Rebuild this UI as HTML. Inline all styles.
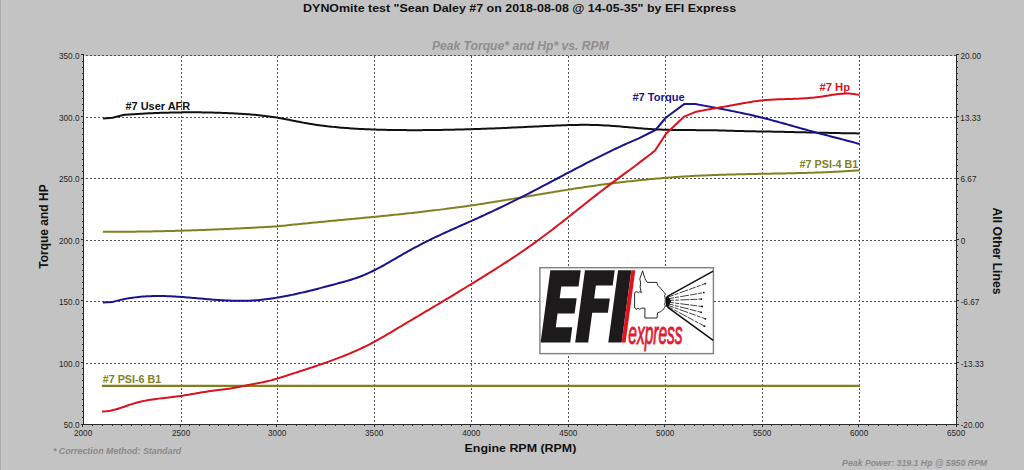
<!DOCTYPE html><html><head><meta charset="utf-8"><style>
html,body{margin:0;padding:0;background:#c3c3c3;overflow:hidden;}
svg{display:block;}
text{font-family:"Liberation Sans",sans-serif;}
</style></head><body>
<svg width="1024" height="470" viewBox="0 0 1024 470">
<rect x="0" y="0" width="1024" height="470" fill="#c3c3c3"/>
<rect x="0" y="0" width="1" height="470" fill="#aaaaaa"/>
<rect x="1" y="0" width="1" height="470" fill="#c8c8c8"/>
<rect x="84" y="56" width="872" height="368" fill="#ffffff"/>

<g stroke="#505050" stroke-width="1" stroke-dasharray="2 2"><line x1="181.5" y1="56" x2="181.5" y2="424"/><line x1="277.5" y1="56" x2="277.5" y2="424"/><line x1="374.5" y1="56" x2="374.5" y2="424"/><line x1="471.5" y1="56" x2="471.5" y2="424"/><line x1="568.5" y1="56" x2="568.5" y2="424"/><line x1="665.5" y1="56" x2="665.5" y2="424"/><line x1="762.5" y1="56" x2="762.5" y2="424"/><line x1="859.5" y1="56" x2="859.5" y2="424"/></g>
<g stroke="#505050" stroke-width="1" stroke-dasharray="2 2" stroke-dashoffset="2"><line x1="84" y1="117.5" x2="956" y2="117.5"/><line x1="84" y1="178.5" x2="956" y2="178.5"/><line x1="84" y1="240.5" x2="956" y2="240.5"/><line x1="84" y1="301.5" x2="956" y2="301.5"/><line x1="84" y1="363.5" x2="956" y2="363.5"/><line x1="84" y1="55.5" x2="956" y2="55.5"/></g>
<g stroke="#2a2a2a" stroke-width="1"><line x1="83.5" y1="55" x2="83.5" y2="425"/><line x1="956.5" y1="55" x2="956.5" y2="425"/><line x1="81" y1="424.5" x2="959" y2="424.5"/><line x1="81" y1="424.5" x2="84" y2="424.5"/><line x1="956" y1="424.5" x2="959" y2="424.5"/><line x1="82" y1="417.5" x2="84" y2="417.5"/><line x1="956" y1="417.5" x2="958" y2="417.5"/><line x1="82" y1="411.5" x2="84" y2="411.5"/><line x1="956" y1="411.5" x2="958" y2="411.5"/><line x1="82" y1="405.5" x2="84" y2="405.5"/><line x1="956" y1="405.5" x2="958" y2="405.5"/><line x1="82" y1="399.5" x2="84" y2="399.5"/><line x1="956" y1="399.5" x2="958" y2="399.5"/><line x1="82" y1="393.5" x2="84" y2="393.5"/><line x1="956" y1="393.5" x2="958" y2="393.5"/><line x1="82" y1="387.5" x2="84" y2="387.5"/><line x1="956" y1="387.5" x2="958" y2="387.5"/><line x1="82" y1="380.5" x2="84" y2="380.5"/><line x1="956" y1="380.5" x2="958" y2="380.5"/><line x1="82" y1="374.5" x2="84" y2="374.5"/><line x1="956" y1="374.5" x2="958" y2="374.5"/><line x1="82" y1="368.5" x2="84" y2="368.5"/><line x1="956" y1="368.5" x2="958" y2="368.5"/><line x1="81" y1="362.5" x2="84" y2="362.5"/><line x1="956" y1="362.5" x2="959" y2="362.5"/><line x1="82" y1="356.5" x2="84" y2="356.5"/><line x1="956" y1="356.5" x2="958" y2="356.5"/><line x1="82" y1="350.5" x2="84" y2="350.5"/><line x1="956" y1="350.5" x2="958" y2="350.5"/><line x1="82" y1="344.5" x2="84" y2="344.5"/><line x1="956" y1="344.5" x2="958" y2="344.5"/><line x1="82" y1="337.5" x2="84" y2="337.5"/><line x1="956" y1="337.5" x2="958" y2="337.5"/><line x1="82" y1="331.5" x2="84" y2="331.5"/><line x1="956" y1="331.5" x2="958" y2="331.5"/><line x1="82" y1="325.5" x2="84" y2="325.5"/><line x1="956" y1="325.5" x2="958" y2="325.5"/><line x1="82" y1="319.5" x2="84" y2="319.5"/><line x1="956" y1="319.5" x2="958" y2="319.5"/><line x1="82" y1="313.5" x2="84" y2="313.5"/><line x1="956" y1="313.5" x2="958" y2="313.5"/><line x1="82" y1="307.5" x2="84" y2="307.5"/><line x1="956" y1="307.5" x2="958" y2="307.5"/><line x1="81" y1="300.5" x2="84" y2="300.5"/><line x1="956" y1="300.5" x2="959" y2="300.5"/><line x1="82" y1="294.5" x2="84" y2="294.5"/><line x1="956" y1="294.5" x2="958" y2="294.5"/><line x1="82" y1="288.5" x2="84" y2="288.5"/><line x1="956" y1="288.5" x2="958" y2="288.5"/><line x1="82" y1="282.5" x2="84" y2="282.5"/><line x1="956" y1="282.5" x2="958" y2="282.5"/><line x1="82" y1="276.5" x2="84" y2="276.5"/><line x1="956" y1="276.5" x2="958" y2="276.5"/><line x1="82" y1="270.5" x2="84" y2="270.5"/><line x1="956" y1="270.5" x2="958" y2="270.5"/><line x1="82" y1="264.5" x2="84" y2="264.5"/><line x1="956" y1="264.5" x2="958" y2="264.5"/><line x1="82" y1="257.5" x2="84" y2="257.5"/><line x1="956" y1="257.5" x2="958" y2="257.5"/><line x1="82" y1="251.5" x2="84" y2="251.5"/><line x1="956" y1="251.5" x2="958" y2="251.5"/><line x1="82" y1="245.5" x2="84" y2="245.5"/><line x1="956" y1="245.5" x2="958" y2="245.5"/><line x1="81" y1="239.5" x2="84" y2="239.5"/><line x1="956" y1="239.5" x2="959" y2="239.5"/><line x1="82" y1="233.5" x2="84" y2="233.5"/><line x1="956" y1="233.5" x2="958" y2="233.5"/><line x1="82" y1="227.5" x2="84" y2="227.5"/><line x1="956" y1="227.5" x2="958" y2="227.5"/><line x1="82" y1="221.5" x2="84" y2="221.5"/><line x1="956" y1="221.5" x2="958" y2="221.5"/><line x1="82" y1="214.5" x2="84" y2="214.5"/><line x1="956" y1="214.5" x2="958" y2="214.5"/><line x1="82" y1="208.5" x2="84" y2="208.5"/><line x1="956" y1="208.5" x2="958" y2="208.5"/><line x1="82" y1="202.5" x2="84" y2="202.5"/><line x1="956" y1="202.5" x2="958" y2="202.5"/><line x1="82" y1="196.5" x2="84" y2="196.5"/><line x1="956" y1="196.5" x2="958" y2="196.5"/><line x1="82" y1="190.5" x2="84" y2="190.5"/><line x1="956" y1="190.5" x2="958" y2="190.5"/><line x1="82" y1="184.5" x2="84" y2="184.5"/><line x1="956" y1="184.5" x2="958" y2="184.5"/><line x1="81" y1="178.5" x2="84" y2="178.5"/><line x1="956" y1="178.5" x2="959" y2="178.5"/><line x1="82" y1="171.5" x2="84" y2="171.5"/><line x1="956" y1="171.5" x2="958" y2="171.5"/><line x1="82" y1="165.5" x2="84" y2="165.5"/><line x1="956" y1="165.5" x2="958" y2="165.5"/><line x1="82" y1="159.5" x2="84" y2="159.5"/><line x1="956" y1="159.5" x2="958" y2="159.5"/><line x1="82" y1="153.5" x2="84" y2="153.5"/><line x1="956" y1="153.5" x2="958" y2="153.5"/><line x1="82" y1="147.5" x2="84" y2="147.5"/><line x1="956" y1="147.5" x2="958" y2="147.5"/><line x1="82" y1="141.5" x2="84" y2="141.5"/><line x1="956" y1="141.5" x2="958" y2="141.5"/><line x1="82" y1="134.5" x2="84" y2="134.5"/><line x1="956" y1="134.5" x2="958" y2="134.5"/><line x1="82" y1="128.5" x2="84" y2="128.5"/><line x1="956" y1="128.5" x2="958" y2="128.5"/><line x1="82" y1="122.5" x2="84" y2="122.5"/><line x1="956" y1="122.5" x2="958" y2="122.5"/><line x1="81" y1="116.5" x2="84" y2="116.5"/><line x1="956" y1="116.5" x2="959" y2="116.5"/><line x1="82" y1="110.5" x2="84" y2="110.5"/><line x1="956" y1="110.5" x2="958" y2="110.5"/><line x1="82" y1="104.5" x2="84" y2="104.5"/><line x1="956" y1="104.5" x2="958" y2="104.5"/><line x1="82" y1="98.5" x2="84" y2="98.5"/><line x1="956" y1="98.5" x2="958" y2="98.5"/><line x1="82" y1="91.5" x2="84" y2="91.5"/><line x1="956" y1="91.5" x2="958" y2="91.5"/><line x1="82" y1="85.5" x2="84" y2="85.5"/><line x1="956" y1="85.5" x2="958" y2="85.5"/><line x1="82" y1="79.5" x2="84" y2="79.5"/><line x1="956" y1="79.5" x2="958" y2="79.5"/><line x1="82" y1="73.5" x2="84" y2="73.5"/><line x1="956" y1="73.5" x2="958" y2="73.5"/><line x1="82" y1="67.5" x2="84" y2="67.5"/><line x1="956" y1="67.5" x2="958" y2="67.5"/><line x1="82" y1="61.5" x2="84" y2="61.5"/><line x1="956" y1="61.5" x2="958" y2="61.5"/><line x1="81" y1="54.5" x2="84" y2="54.5"/><line x1="956" y1="54.5" x2="959" y2="54.5"/><line x1="82.5" y1="424" x2="82.5" y2="427"/><line x1="92.5" y1="424" x2="92.5" y2="426"/><line x1="102.5" y1="424" x2="102.5" y2="426"/><line x1="112.5" y1="424" x2="112.5" y2="426"/><line x1="121.5" y1="424" x2="121.5" y2="426"/><line x1="131.5" y1="424" x2="131.5" y2="426"/><line x1="141.5" y1="424" x2="141.5" y2="426"/><line x1="150.5" y1="424" x2="150.5" y2="426"/><line x1="160.5" y1="424" x2="160.5" y2="426"/><line x1="170.5" y1="424" x2="170.5" y2="426"/><line x1="180.5" y1="424" x2="180.5" y2="427"/><line x1="189.5" y1="424" x2="189.5" y2="426"/><line x1="199.5" y1="424" x2="199.5" y2="426"/><line x1="209.5" y1="424" x2="209.5" y2="426"/><line x1="218.5" y1="424" x2="218.5" y2="426"/><line x1="228.5" y1="424" x2="228.5" y2="426"/><line x1="238.5" y1="424" x2="238.5" y2="426"/><line x1="247.5" y1="424" x2="247.5" y2="426"/><line x1="257.5" y1="424" x2="257.5" y2="426"/><line x1="267.5" y1="424" x2="267.5" y2="426"/><line x1="276.5" y1="424" x2="276.5" y2="427"/><line x1="286.5" y1="424" x2="286.5" y2="426"/><line x1="296.5" y1="424" x2="296.5" y2="426"/><line x1="306.5" y1="424" x2="306.5" y2="426"/><line x1="315.5" y1="424" x2="315.5" y2="426"/><line x1="325.5" y1="424" x2="325.5" y2="426"/><line x1="335.5" y1="424" x2="335.5" y2="426"/><line x1="344.5" y1="424" x2="344.5" y2="426"/><line x1="354.5" y1="424" x2="354.5" y2="426"/><line x1="364.5" y1="424" x2="364.5" y2="426"/><line x1="374.5" y1="424" x2="374.5" y2="427"/><line x1="383.5" y1="424" x2="383.5" y2="426"/><line x1="393.5" y1="424" x2="393.5" y2="426"/><line x1="403.5" y1="424" x2="403.5" y2="426"/><line x1="412.5" y1="424" x2="412.5" y2="426"/><line x1="422.5" y1="424" x2="422.5" y2="426"/><line x1="432.5" y1="424" x2="432.5" y2="426"/><line x1="441.5" y1="424" x2="441.5" y2="426"/><line x1="451.5" y1="424" x2="451.5" y2="426"/><line x1="461.5" y1="424" x2="461.5" y2="426"/><line x1="470.5" y1="424" x2="470.5" y2="427"/><line x1="480.5" y1="424" x2="480.5" y2="426"/><line x1="490.5" y1="424" x2="490.5" y2="426"/><line x1="500.5" y1="424" x2="500.5" y2="426"/><line x1="509.5" y1="424" x2="509.5" y2="426"/><line x1="519.5" y1="424" x2="519.5" y2="426"/><line x1="529.5" y1="424" x2="529.5" y2="426"/><line x1="538.5" y1="424" x2="538.5" y2="426"/><line x1="548.5" y1="424" x2="548.5" y2="426"/><line x1="558.5" y1="424" x2="558.5" y2="426"/><line x1="568.5" y1="424" x2="568.5" y2="427"/><line x1="577.5" y1="424" x2="577.5" y2="426"/><line x1="587.5" y1="424" x2="587.5" y2="426"/><line x1="597.5" y1="424" x2="597.5" y2="426"/><line x1="606.5" y1="424" x2="606.5" y2="426"/><line x1="616.5" y1="424" x2="616.5" y2="426"/><line x1="626.5" y1="424" x2="626.5" y2="426"/><line x1="635.5" y1="424" x2="635.5" y2="426"/><line x1="645.5" y1="424" x2="645.5" y2="426"/><line x1="655.5" y1="424" x2="655.5" y2="426"/><line x1="664.5" y1="424" x2="664.5" y2="427"/><line x1="674.5" y1="424" x2="674.5" y2="426"/><line x1="684.5" y1="424" x2="684.5" y2="426"/><line x1="694.5" y1="424" x2="694.5" y2="426"/><line x1="703.5" y1="424" x2="703.5" y2="426"/><line x1="713.5" y1="424" x2="713.5" y2="426"/><line x1="723.5" y1="424" x2="723.5" y2="426"/><line x1="732.5" y1="424" x2="732.5" y2="426"/><line x1="742.5" y1="424" x2="742.5" y2="426"/><line x1="752.5" y1="424" x2="752.5" y2="426"/><line x1="762.5" y1="424" x2="762.5" y2="427"/><line x1="771.5" y1="424" x2="771.5" y2="426"/><line x1="781.5" y1="424" x2="781.5" y2="426"/><line x1="791.5" y1="424" x2="791.5" y2="426"/><line x1="800.5" y1="424" x2="800.5" y2="426"/><line x1="810.5" y1="424" x2="810.5" y2="426"/><line x1="820.5" y1="424" x2="820.5" y2="426"/><line x1="829.5" y1="424" x2="829.5" y2="426"/><line x1="839.5" y1="424" x2="839.5" y2="426"/><line x1="849.5" y1="424" x2="849.5" y2="426"/><line x1="858.5" y1="424" x2="858.5" y2="427"/><line x1="868.5" y1="424" x2="868.5" y2="426"/><line x1="878.5" y1="424" x2="878.5" y2="426"/><line x1="888.5" y1="424" x2="888.5" y2="426"/><line x1="897.5" y1="424" x2="897.5" y2="426"/><line x1="907.5" y1="424" x2="907.5" y2="426"/><line x1="917.5" y1="424" x2="917.5" y2="426"/><line x1="926.5" y1="424" x2="926.5" y2="426"/><line x1="936.5" y1="424" x2="936.5" y2="426"/><line x1="946.5" y1="424" x2="946.5" y2="426"/><line x1="956.5" y1="424" x2="956.5" y2="427"/></g>
<g fill="#262626" font-size="9"><text x="63.64" y="427.8" textLength="15.94" lengthAdjust="spacingAndGlyphs">50.0</text><text x="59.00" y="366.8" textLength="20.50" lengthAdjust="spacingAndGlyphs">100.0</text><text x="59.00" y="304.8" textLength="20.50" lengthAdjust="spacingAndGlyphs">150.0</text><text x="59.00" y="243.8" textLength="20.50" lengthAdjust="spacingAndGlyphs">200.0</text><text x="59.00" y="181.8" textLength="20.50" lengthAdjust="spacingAndGlyphs">250.0</text><text x="59.00" y="120.8" textLength="20.50" lengthAdjust="spacingAndGlyphs">300.0</text><text x="59.00" y="58.8" textLength="20.50" lengthAdjust="spacingAndGlyphs">350.0</text><text x="960.64" y="427.8" textLength="23.22" lengthAdjust="spacingAndGlyphs">-20.00</text><text x="960.64" y="366.8" textLength="23.22" lengthAdjust="spacingAndGlyphs">-13.33</text><text x="960.64" y="304.8" textLength="18.67" lengthAdjust="spacingAndGlyphs">-6.67</text><text x="960.64" y="243.8" textLength="4.56" lengthAdjust="spacingAndGlyphs">0</text><text x="960.54" y="181.8" textLength="15.94" lengthAdjust="spacingAndGlyphs">6.67</text><text x="960.36" y="120.8" textLength="20.50" lengthAdjust="spacingAndGlyphs">13.33</text><text x="960.54" y="58.8" textLength="20.50" lengthAdjust="spacingAndGlyphs">20.00</text><text x="74.01" y="435.6" textLength="18.22" lengthAdjust="spacingAndGlyphs">2000</text><text x="172.01" y="435.6" textLength="18.22" lengthAdjust="spacingAndGlyphs">2500</text><text x="268.05" y="435.6" textLength="18.22" lengthAdjust="spacingAndGlyphs">3000</text><text x="365.05" y="435.6" textLength="18.22" lengthAdjust="spacingAndGlyphs">3500</text><text x="462.15" y="435.6" textLength="18.22" lengthAdjust="spacingAndGlyphs">4000</text><text x="559.15" y="435.6" textLength="18.22" lengthAdjust="spacingAndGlyphs">4500</text><text x="656.05" y="435.6" textLength="18.22" lengthAdjust="spacingAndGlyphs">5000</text><text x="753.05" y="435.6" textLength="18.22" lengthAdjust="spacingAndGlyphs">5500</text><text x="850.01" y="435.6" textLength="18.22" lengthAdjust="spacingAndGlyphs">6000</text><text x="947.01" y="435.6" textLength="18.22" lengthAdjust="spacingAndGlyphs">6500</text></g>
<path d="M102.90,231.80 L104.93,231.80 L106.97,231.80 L109.00,231.80 L111.03,231.80 L113.07,231.80 L115.10,231.79 L117.14,231.78 L119.17,231.77 L121.20,231.76 L123.24,231.75 L125.27,231.73 L127.30,231.71 L129.34,231.70 L131.37,231.68 L133.41,231.66 L135.44,231.63 L137.47,231.61 L139.51,231.58 L141.54,231.55 L143.57,231.52 L145.61,231.49 L147.64,231.46 L149.68,231.42 L151.71,231.39 L153.74,231.35 L155.78,231.31 L157.81,231.27 L159.84,231.22 L161.88,231.18 L163.91,231.13 L165.95,231.09 L167.98,231.04 L170.01,230.99 L172.05,230.93 L174.08,230.88 L176.11,230.83 L178.15,230.77 L180.18,230.71 L182.22,230.65 L184.25,230.59 L186.28,230.53 L188.32,230.46 L190.35,230.40 L192.38,230.33 L194.42,230.26 L196.45,230.19 L198.48,230.12 L200.52,230.05 L202.55,229.97 L204.59,229.90 L206.62,229.82 L208.65,229.74 L210.69,229.66 L212.72,229.58 L214.75,229.50 L216.79,229.42 L218.82,229.33 L220.86,229.24 L222.89,229.16 L224.92,229.07 L226.96,228.98 L228.99,228.88 L231.02,228.79 L233.06,228.70 L235.09,228.60 L237.13,228.50 L239.16,228.40 L241.19,228.31 L243.23,228.20 L245.26,228.10 L247.29,228.00 L249.33,227.89 L251.36,227.79 L253.40,227.68 L255.43,227.57 L257.46,227.46 L259.50,227.35 L261.53,227.24 L263.56,227.13 L265.60,227.01 L267.63,226.90 L269.67,226.78 L271.70,226.66 L273.73,226.54 L275.77,226.42 L277.80,226.30 L277.80,226.30 L279.81,226.08 L281.81,225.86 L283.82,225.65 L285.83,225.44 L287.83,225.23 L289.84,225.02 L291.85,224.81 L293.86,224.61 L295.86,224.40 L297.87,224.20 L299.88,224.00 L301.88,223.80 L303.89,223.60 L305.90,223.40 L307.90,223.20 L309.91,223.00 L311.92,222.80 L313.92,222.61 L315.93,222.41 L317.94,222.22 L319.94,222.03 L321.95,221.83 L323.96,221.64 L325.97,221.45 L327.97,221.26 L329.98,221.06 L331.99,220.87 L333.99,220.68 L336.00,220.49 L338.01,220.30 L340.01,220.11 L342.02,219.92 L344.03,219.73 L346.03,219.54 L348.04,219.35 L350.05,219.16 L352.06,218.97 L354.06,218.78 L356.07,218.59 L358.08,218.39 L360.08,218.20 L362.09,218.01 L364.10,217.82 L366.10,217.62 L368.11,217.43 L370.12,217.23 L372.12,217.04 L374.13,216.84 L376.14,216.65 L378.14,216.45 L380.15,216.25 L382.16,216.05 L384.17,215.85 L386.17,215.65 L388.18,215.44 L390.19,215.24 L392.19,215.04 L394.20,214.83 L396.21,214.62 L398.21,214.41 L400.22,214.20 L402.23,213.99 L404.23,213.78 L406.24,213.56 L408.25,213.35 L410.26,213.13 L412.26,212.91 L414.27,212.69 L416.28,212.46 L418.28,212.24 L420.29,212.01 L422.30,211.78 L424.30,211.55 L426.31,211.32 L428.32,211.08 L430.32,210.84 L432.33,210.60 L434.34,210.36 L436.34,210.12 L438.35,209.87 L440.36,209.62 L442.37,209.37 L444.37,209.12 L446.38,208.86 L448.39,208.60 L450.39,208.34 L452.40,208.07 L454.41,207.81 L456.41,207.54 L458.42,207.26 L460.43,206.99 L462.43,206.71 L464.44,206.43 L466.45,206.14 L468.46,205.85 L470.46,205.56 L472.47,205.27 L474.48,204.97 L476.48,204.67 L478.49,204.37 L480.50,204.06 L482.50,203.75 L484.51,203.44 L486.52,203.13 L488.52,202.81 L490.53,202.49 L492.54,202.17 L494.54,201.85 L496.55,201.53 L498.56,201.20 L500.57,200.87 L502.57,200.54 L504.58,200.21 L506.59,199.88 L508.59,199.55 L510.60,199.21 L512.61,198.88 L514.61,198.54 L516.62,198.21 L518.63,197.87 L520.63,197.53 L522.64,197.19 L524.65,196.85 L526.66,196.52 L528.66,196.18 L530.67,195.84 L532.68,195.50 L534.68,195.16 L536.69,194.82 L538.70,194.49 L540.70,194.15 L542.71,193.81 L544.72,193.48 L546.72,193.14 L548.73,192.81 L550.74,192.47 L552.74,192.14 L554.75,191.81 L556.76,191.48 L558.77,191.16 L560.77,190.83 L562.78,190.51 L564.79,190.19 L566.79,189.87 L568.80,189.55 L570.81,189.23 L572.81,188.92 L574.82,188.61 L576.83,188.30 L578.83,188.00 L580.84,187.70 L582.85,187.40 L584.86,187.10 L586.86,186.81 L588.87,186.51 L590.88,186.23 L592.88,185.94 L594.89,185.66 L596.90,185.38 L598.90,185.11 L600.91,184.84 L602.92,184.57 L604.92,184.30 L606.93,184.04 L608.94,183.78 L610.94,183.52 L612.95,183.27 L614.96,183.02 L616.97,182.77 L618.97,182.53 L620.98,182.29 L622.99,182.05 L624.99,181.82 L627.00,181.59 L629.01,181.36 L631.01,181.14 L633.02,180.92 L635.03,180.70 L637.03,180.49 L639.04,180.28 L641.05,180.08 L643.06,179.87 L645.06,179.67 L647.07,179.48 L649.08,179.29 L651.08,179.10 L653.09,178.91 L655.10,178.73 L657.10,178.55 L659.11,178.38 L661.12,178.21 L663.12,178.04 L665.13,177.88 L667.14,177.72 L669.14,177.56 L671.15,177.41 L673.16,177.26 L675.17,177.11 L677.17,176.97 L679.18,176.83 L681.19,176.70 L683.19,176.57 L685.20,176.44 L687.21,176.32 L689.21,176.20 L691.22,176.09 L693.23,175.98 L695.23,175.87 L697.24,175.77 L699.25,175.67 L701.26,175.57 L703.26,175.48 L705.27,175.39 L707.28,175.30 L709.28,175.22 L711.29,175.14 L713.30,175.06 L715.30,174.99 L717.31,174.92 L719.32,174.85 L721.32,174.79 L723.33,174.72 L725.34,174.66 L727.34,174.60 L729.35,174.54 L731.36,174.49 L733.37,174.44 L735.37,174.39 L737.38,174.34 L739.39,174.29 L741.39,174.24 L743.40,174.20 L745.41,174.15 L747.41,174.11 L749.42,174.07 L751.43,174.03 L753.43,173.99 L755.44,173.95 L757.45,173.91 L759.46,173.87 L761.46,173.83 L763.47,173.80 L765.48,173.76 L767.48,173.72 L769.49,173.69 L771.50,173.65 L773.50,173.61 L775.51,173.57 L777.52,173.54 L779.52,173.50 L781.53,173.46 L783.54,173.42 L785.54,173.38 L787.55,173.34 L789.56,173.29 L791.57,173.25 L793.57,173.20 L795.58,173.16 L797.59,173.11 L799.59,173.06 L801.60,173.01 L803.61,172.95 L805.61,172.90 L807.62,172.84 L809.63,172.78 L811.63,172.72 L813.64,172.66 L815.65,172.59 L817.66,172.52 L819.66,172.45 L821.67,172.38 L823.68,172.30 L825.68,172.22 L827.69,172.14 L829.70,172.05 L831.70,171.96 L833.71,171.87 L835.72,171.77 L837.72,171.67 L839.73,171.57 L841.74,171.46 L843.74,171.35 L845.75,171.23 L847.76,171.11 L849.77,170.99 L851.77,170.86 L853.78,170.73 L855.79,170.59 L857.79,170.45 L859.80,170.30" fill="none" stroke="#80801f" stroke-width="2.0" stroke-linejoin="round"/>
<line x1="102" y1="385.8" x2="860" y2="385.8" stroke="#80801f" stroke-width="2.2"/>
<path d="M103.10,118.40 L112.60,117.70 L112.60,117.70 L124.30,114.80 L124.30,114.80 L126.31,114.66 L128.32,114.52 L130.33,114.39 L132.34,114.26 L134.35,114.13 L136.35,114.01 L138.36,113.89 L140.37,113.78 L142.38,113.67 L144.39,113.57 L146.40,113.46 L148.41,113.37 L150.42,113.27 L152.43,113.19 L154.44,113.10 L156.44,113.02 L158.45,112.94 L160.46,112.87 L162.47,112.80 L164.48,112.74 L166.49,112.68 L168.50,112.63 L170.51,112.57 L172.52,112.53 L174.53,112.49 L176.53,112.45 L178.54,112.42 L180.55,112.39 L182.56,112.37 L184.57,112.35 L186.58,112.33 L188.59,112.32 L190.60,112.32 L192.61,112.32 L194.62,112.32 L196.62,112.33 L198.63,112.35 L200.64,112.36 L202.65,112.39 L204.66,112.42 L206.67,112.45 L208.68,112.49 L210.69,112.53 L212.70,112.58 L214.71,112.63 L216.71,112.69 L218.72,112.76 L220.73,112.83 L222.74,112.90 L224.75,112.98 L226.76,113.06 L228.77,113.15 L230.78,113.25 L232.79,113.35 L234.80,113.46 L236.80,113.57 L238.81,113.68 L240.82,113.80 L242.83,113.93 L244.84,114.07 L246.85,114.21 L248.86,114.36 L250.87,114.51 L252.88,114.68 L254.89,114.86 L256.90,115.04 L258.90,115.24 L260.91,115.45 L262.92,115.67 L264.93,115.90 L266.94,116.15 L268.95,116.41 L270.96,116.69 L272.97,116.98 L274.98,117.29 L276.99,117.62 L278.99,117.96 L281.00,118.32 L283.01,118.69 L285.02,119.07 L287.03,119.46 L289.04,119.85 L291.05,120.25 L293.06,120.65 L295.07,121.05 L297.08,121.45 L299.08,121.85 L301.09,122.24 L303.10,122.62 L305.11,122.99 L307.12,123.34 L309.13,123.68 L311.14,124.01 L313.15,124.33 L315.16,124.64 L317.17,124.93 L319.17,125.21 L321.18,125.48 L323.19,125.74 L325.20,125.99 L327.21,126.22 L329.22,126.45 L331.23,126.67 L333.24,126.88 L335.25,127.09 L337.26,127.28 L339.26,127.46 L341.27,127.64 L343.28,127.81 L345.29,127.97 L347.30,128.12 L349.31,128.27 L351.32,128.41 L353.33,128.54 L355.34,128.66 L357.35,128.78 L359.35,128.89 L361.36,129.00 L363.37,129.09 L365.38,129.19 L367.39,129.27 L369.40,129.36 L371.41,129.43 L373.42,129.50 L375.43,129.57 L377.44,129.63 L379.45,129.69 L381.45,129.74 L383.46,129.79 L385.47,129.84 L387.48,129.88 L389.49,129.92 L391.50,129.95 L393.51,129.99 L395.52,130.02 L397.53,130.04 L399.54,130.06 L401.54,130.08 L403.55,130.10 L405.56,130.12 L407.57,130.13 L409.58,130.13 L411.59,130.14 L413.60,130.14 L415.61,130.14 L417.62,130.14 L419.63,130.13 L421.63,130.13 L423.64,130.11 L425.65,130.10 L427.66,130.09 L429.67,130.07 L431.68,130.05 L433.69,130.02 L435.70,130.00 L437.71,129.97 L439.72,129.94 L441.72,129.91 L443.73,129.87 L445.74,129.83 L447.75,129.80 L449.76,129.75 L451.77,129.71 L453.78,129.67 L455.79,129.62 L457.80,129.57 L459.81,129.52 L461.81,129.46 L463.82,129.41 L465.83,129.35 L467.84,129.29 L469.85,129.23 L471.86,129.17 L473.87,129.11 L475.88,129.04 L477.89,128.97 L479.90,128.90 L481.90,128.83 L483.91,128.76 L485.92,128.69 L487.93,128.61 L489.94,128.54 L491.95,128.46 L493.96,128.38 L495.97,128.30 L497.98,128.22 L499.99,128.14 L502.00,128.05 L504.00,127.97 L506.01,127.88 L508.02,127.80 L510.03,127.71 L512.04,127.62 L514.05,127.53 L516.06,127.44 L518.07,127.35 L520.08,127.25 L522.09,127.16 L524.09,127.06 L526.10,126.97 L528.11,126.87 L530.12,126.78 L532.13,126.68 L534.14,126.58 L536.15,126.48 L538.16,126.39 L540.17,126.29 L542.18,126.19 L544.18,126.09 L546.19,126.00 L548.20,125.90 L550.21,125.81 L552.22,125.72 L554.23,125.63 L556.24,125.55 L558.25,125.47 L560.26,125.39 L562.27,125.31 L564.27,125.24 L566.28,125.18 L568.29,125.11 L570.30,125.06 L572.31,125.01 L574.32,124.96 L576.33,124.93 L578.34,124.90 L580.35,124.87 L582.36,124.86 L584.36,124.85 L586.37,124.86 L588.38,124.87 L590.39,124.89 L592.40,124.93 L594.41,124.97 L596.42,125.03 L598.43,125.10 L600.44,125.18 L602.45,125.27 L604.45,125.38 L606.46,125.49 L608.47,125.62 L610.48,125.76 L612.49,125.90 L614.50,126.05 L616.51,126.21 L618.52,126.37 L620.53,126.54 L622.54,126.71 L624.55,126.89 L626.55,127.07 L628.56,127.25 L630.57,127.43 L632.58,127.60 L634.59,127.78 L636.60,127.96 L638.61,128.13 L640.62,128.30 L642.63,128.47 L644.64,128.63 L646.64,128.78 L648.65,128.93 L650.66,129.06 L652.67,129.19 L654.68,129.31 L656.69,129.42 L658.70,129.52 L660.71,129.60 L662.72,129.68 L664.73,129.75 L666.73,129.81 L668.74,129.87 L670.75,129.91 L672.76,129.95 L674.77,129.98 L676.78,130.01 L678.79,130.04 L680.80,130.06 L682.81,130.07 L684.82,130.08 L686.82,130.09 L688.83,130.10 L690.84,130.11 L692.85,130.12 L694.86,130.12 L696.87,130.13 L698.88,130.14 L700.89,130.15 L702.90,130.16 L704.91,130.18 L706.91,130.19 L708.92,130.22 L710.93,130.24 L712.94,130.28 L714.95,130.32 L716.96,130.36 L718.97,130.41 L720.98,130.47 L722.99,130.53 L725.00,130.59 L727.00,130.65 L729.01,130.71 L731.02,130.78 L733.03,130.84 L735.04,130.89 L737.05,130.95 L739.06,131.00 L741.07,131.05 L743.08,131.10 L745.09,131.14 L747.10,131.18 L749.10,131.23 L751.11,131.26 L753.12,131.30 L755.13,131.34 L757.14,131.38 L759.15,131.41 L761.16,131.45 L763.17,131.48 L765.18,131.51 L767.19,131.55 L769.19,131.59 L771.20,131.62 L773.21,131.66 L775.22,131.70 L777.23,131.74 L779.24,131.78 L781.25,131.82 L783.26,131.86 L785.27,131.90 L787.28,131.95 L789.28,131.99 L791.29,132.04 L793.30,132.08 L795.31,132.13 L797.32,132.17 L799.33,132.22 L801.34,132.27 L803.35,132.31 L805.36,132.36 L807.37,132.41 L809.37,132.45 L811.38,132.50 L813.39,132.55 L815.40,132.59 L817.41,132.64 L819.42,132.69 L821.43,132.73 L823.44,132.77 L825.45,132.82 L827.46,132.86 L829.46,132.90 L831.47,132.95 L833.48,132.99 L835.49,133.03 L837.50,133.06 L839.51,133.10 L841.52,133.14 L843.53,133.17 L845.54,133.21 L847.55,133.24 L849.55,133.27 L851.56,133.30 L853.57,133.33 L855.58,133.35 L857.59,133.38 L859.60,133.40" fill="none" stroke="#111" stroke-width="2.0" stroke-linejoin="round"/>
<path d="M102.90,302.60 L112.60,302.00 L112.60,302.00 L114.61,301.41 L116.63,300.86 L118.64,300.35 L120.66,299.87 L122.67,299.42 L124.69,299.00 L126.70,298.62 L128.71,298.26 L130.73,297.94 L132.74,297.64 L134.76,297.38 L136.77,297.14 L138.78,296.92 L140.80,296.73 L142.81,296.57 L144.83,296.42 L146.84,296.31 L148.86,296.21 L150.87,296.13 L152.88,296.08 L154.90,296.04 L156.91,296.02 L158.93,296.02 L160.94,296.04 L162.95,296.07 L164.97,296.12 L166.98,296.19 L169.00,296.26 L171.01,296.35 L173.03,296.45 L175.04,296.56 L177.05,296.68 L179.07,296.81 L181.08,296.95 L183.10,297.10 L185.11,297.25 L187.12,297.41 L189.14,297.58 L191.15,297.74 L193.17,297.92 L195.18,298.09 L197.20,298.27 L199.21,298.44 L201.22,298.62 L203.24,298.79 L205.25,298.97 L207.27,299.14 L209.28,299.31 L211.29,299.47 L213.31,299.63 L215.32,299.78 L217.34,299.93 L219.35,300.07 L221.37,300.20 L223.38,300.32 L225.39,300.43 L227.41,300.52 L229.42,300.61 L231.44,300.69 L233.45,300.75 L235.46,300.79 L237.48,300.82 L239.49,300.84 L241.51,300.84 L243.52,300.82 L245.54,300.78 L247.55,300.72 L249.56,300.64 L251.58,300.55 L253.59,300.43 L255.61,300.29 L257.62,300.13 L259.63,299.95 L261.65,299.75 L263.66,299.53 L265.68,299.30 L267.69,299.05 L269.71,298.78 L271.72,298.50 L273.73,298.20 L275.75,297.88 L277.76,297.55 L279.78,297.21 L281.79,296.85 L283.80,296.48 L285.82,296.10 L287.83,295.70 L289.85,295.29 L291.86,294.88 L293.88,294.45 L295.89,294.01 L297.90,293.56 L299.92,293.10 L301.93,292.64 L303.95,292.16 L305.96,291.68 L307.98,291.19 L309.99,290.69 L312.00,290.19 L314.02,289.68 L316.03,289.17 L318.05,288.66 L320.06,288.13 L322.07,287.61 L324.09,287.08 L326.10,286.55 L328.12,286.02 L330.13,285.49 L332.15,284.95 L334.16,284.41 L336.17,283.88 L338.19,283.34 L340.20,282.81 L342.22,282.26 L344.23,281.71 L346.24,281.14 L348.26,280.56 L350.27,279.95 L352.29,279.32 L354.30,278.67 L356.32,277.98 L358.33,277.26 L360.34,276.50 L362.36,275.71 L364.37,274.88 L366.39,274.02 L368.40,273.13 L370.41,272.20 L372.43,271.24 L374.44,270.25 L376.46,269.23 L378.47,268.18 L380.49,267.11 L382.50,266.00 L384.51,264.88 L386.53,263.73 L388.54,262.58 L390.56,261.41 L392.57,260.23 L394.58,259.04 L396.60,257.86 L398.61,256.68 L400.63,255.51 L402.64,254.35 L404.66,253.20 L406.67,252.06 L408.68,250.94 L410.70,249.83 L412.71,248.73 L414.73,247.64 L416.74,246.57 L418.75,245.51 L420.77,244.46 L422.78,243.42 L424.80,242.40 L426.81,241.39 L428.83,240.39 L430.84,239.40 L432.85,238.42 L434.87,237.45 L436.88,236.49 L438.90,235.55 L440.91,234.61 L442.92,233.68 L444.94,232.75 L446.95,231.84 L448.97,230.93 L450.98,230.02 L453.00,229.12 L455.01,228.22 L457.02,227.32 L459.04,226.43 L461.05,225.53 L463.07,224.64 L465.08,223.74 L467.10,222.85 L469.11,221.95 L471.12,221.05 L473.14,220.14 L475.15,219.23 L477.17,218.32 L479.18,217.41 L481.19,216.49 L483.21,215.56 L485.22,214.64 L487.24,213.70 L489.25,212.77 L491.27,211.83 L493.28,210.88 L495.29,209.94 L497.31,208.98 L499.32,208.02 L501.34,207.06 L503.35,206.09 L505.36,205.12 L507.38,204.14 L509.39,203.16 L511.41,202.17 L513.42,201.17 L515.44,200.17 L517.45,199.17 L519.46,198.16 L521.48,197.14 L523.49,196.12 L525.51,195.09 L527.52,194.06 L529.53,193.03 L531.55,191.99 L533.56,190.95 L535.58,189.90 L537.59,188.85 L539.61,187.80 L541.62,186.74 L543.63,185.69 L545.65,184.63 L547.66,183.57 L549.68,182.51 L551.69,181.44 L553.70,180.38 L555.72,179.31 L557.73,178.25 L559.75,177.18 L561.76,176.12 L563.78,175.05 L565.79,173.99 L567.80,172.93 L569.82,171.87 L571.83,170.81 L573.85,169.75 L575.86,168.70 L577.87,167.64 L579.89,166.59 L581.90,165.55 L583.92,164.50 L585.93,163.46 L587.95,162.43 L589.96,161.39 L591.97,160.37 L593.99,159.34 L596.00,158.32 L598.02,157.31 L600.03,156.31 L602.04,155.30 L604.06,154.31 L606.07,153.32 L608.09,152.34 L610.10,151.36 L612.12,150.40 L614.13,149.43 L616.14,148.48 L618.16,147.54 L620.17,146.60 L622.19,145.67 L624.20,144.76 L626.21,143.85 L628.23,142.95 L630.24,142.06 L632.26,141.18 L634.27,140.31 L636.29,139.45 L638.30,138.60 L638.30,138.60 L655.50,130.00 L655.50,130.00 L666.00,117.50 L666.00,117.50 L684.20,104.10 L684.20,104.10 L695.70,104.10 L695.70,104.10 L697.75,104.48 L699.80,104.86 L701.85,105.24 L703.90,105.62 L705.94,106.00 L707.99,106.38 L710.04,106.76 L712.09,107.14 L714.14,107.53 L716.19,107.91 L718.24,108.30 L720.29,108.69 L722.33,109.09 L724.38,109.49 L726.43,109.89 L728.48,110.29 L730.53,110.70 L732.58,111.11 L734.63,111.53 L736.68,111.95 L738.72,112.38 L740.77,112.81 L742.82,113.25 L744.87,113.69 L746.92,114.14 L748.97,114.60 L751.02,115.06 L753.07,115.53 L755.11,116.01 L757.16,116.50 L759.21,116.99 L761.26,117.49 L763.31,118.00 L765.36,118.52 L767.41,119.05 L769.46,119.59 L771.50,120.13 L773.55,120.68 L775.60,121.23 L777.65,121.79 L779.70,122.35 L781.75,122.92 L783.80,123.49 L785.85,124.06 L787.89,124.64 L789.94,125.21 L791.99,125.79 L794.04,126.36 L796.09,126.94 L798.14,127.52 L800.19,128.09 L802.24,128.67 L804.28,129.24 L806.33,129.81 L808.38,130.38 L810.43,130.94 L812.48,131.50 L814.53,132.06 L816.58,132.61 L818.62,133.16 L820.67,133.71 L822.72,134.26 L824.77,134.80 L826.82,135.34 L828.87,135.88 L830.92,136.41 L832.97,136.95 L835.01,137.49 L837.06,138.02 L839.11,138.56 L841.16,139.09 L843.21,139.63 L845.26,140.17 L847.31,140.71 L849.36,141.25 L851.40,141.79 L853.45,142.34 L855.50,142.89 L857.55,143.44 L859.60,144.00" fill="none" stroke="#1a148c" stroke-width="2.0" stroke-linejoin="round"/>
<path d="M102.10,411.50 L104.11,411.47 L106.12,411.32 L108.13,411.07 L110.14,410.74 L112.15,410.32 L114.17,409.83 L116.18,409.28 L118.19,408.68 L120.20,408.05 L122.21,407.38 L124.22,406.70 L126.23,406.00 L128.24,405.31 L130.25,404.63 L132.26,403.98 L134.27,403.36 L136.29,402.77 L138.30,402.24 L140.31,401.74 L142.32,401.28 L144.33,400.86 L146.34,400.47 L148.35,400.10 L150.36,399.77 L152.37,399.45 L154.38,399.16 L156.39,398.89 L158.41,398.63 L160.42,398.38 L162.43,398.14 L164.44,397.91 L166.45,397.68 L168.46,397.46 L170.47,397.23 L172.48,397.00 L174.49,396.76 L176.50,396.51 L178.51,396.24 L180.53,395.96 L182.54,395.67 L184.55,395.35 L186.56,395.03 L188.57,394.69 L190.58,394.34 L192.59,393.99 L194.60,393.64 L196.61,393.29 L198.62,392.94 L200.63,392.60 L202.65,392.27 L204.66,391.95 L206.67,391.64 L208.68,391.36 L210.69,391.09 L212.70,390.83 L214.71,390.59 L216.72,390.34 L218.73,390.10 L220.74,389.86 L222.75,389.60 L224.77,389.34 L226.78,389.06 L228.79,388.75 L230.80,388.43 L232.81,388.08 L234.82,387.70 L236.83,387.31 L238.84,386.91 L240.85,386.51 L242.86,386.09 L244.87,385.68 L246.89,385.27 L248.90,384.88 L250.91,384.49 L252.92,384.11 L254.93,383.74 L256.94,383.37 L258.95,383.00 L260.96,382.61 L262.97,382.21 L264.98,381.79 L266.99,381.35 L269.01,380.87 L271.02,380.37 L273.03,379.82 L275.04,379.25 L277.05,378.66 L279.06,378.04 L281.07,377.41 L283.08,376.77 L285.09,376.12 L287.10,375.47 L289.11,374.82 L291.13,374.17 L293.14,373.52 L295.15,372.86 L297.16,372.21 L299.17,371.56 L301.18,370.90 L303.19,370.25 L305.20,369.59 L307.21,368.93 L309.22,368.27 L311.23,367.61 L313.25,366.94 L315.26,366.27 L317.27,365.59 L319.28,364.91 L321.29,364.22 L323.30,363.53 L325.31,362.83 L327.32,362.12 L329.33,361.40 L331.34,360.67 L333.35,359.93 L335.37,359.18 L337.38,358.42 L339.39,357.65 L341.40,356.87 L343.41,356.07 L345.42,355.26 L347.43,354.44 L349.44,353.60 L351.45,352.74 L353.46,351.87 L355.47,350.99 L357.49,350.09 L359.50,349.17 L361.51,348.23 L363.52,347.27 L365.53,346.29 L367.54,345.29 L369.55,344.28 L371.56,343.24 L373.57,342.18 L375.58,341.09 L377.59,339.99 L379.61,338.87 L381.62,337.72 L383.63,336.57 L385.64,335.40 L387.65,334.22 L389.66,333.03 L391.67,331.83 L393.68,330.63 L395.69,329.42 L397.70,328.21 L399.71,327.00 L401.73,325.80 L403.74,324.60 L405.75,323.40 L407.76,322.20 L409.77,321.01 L411.78,319.81 L413.79,318.62 L415.80,317.43 L417.81,316.24 L419.82,315.05 L421.83,313.86 L423.85,312.67 L425.86,311.48 L427.87,310.28 L429.88,309.09 L431.89,307.90 L433.90,306.70 L435.91,305.51 L437.92,304.31 L439.93,303.10 L441.94,301.90 L443.95,300.69 L445.97,299.48 L447.98,298.27 L449.99,297.05 L452.00,295.84 L454.01,294.62 L456.02,293.39 L458.03,292.17 L460.04,290.94 L462.05,289.71 L464.06,288.48 L466.07,287.25 L468.09,286.02 L470.10,284.79 L472.11,283.55 L474.12,282.32 L476.13,281.08 L478.14,279.84 L480.15,278.60 L482.16,277.36 L484.17,276.11 L486.18,274.86 L488.19,273.61 L490.21,272.35 L492.22,271.09 L494.23,269.82 L496.24,268.55 L498.25,267.27 L500.26,265.99 L502.27,264.70 L504.28,263.40 L506.29,262.10 L508.30,260.79 L510.31,259.47 L512.33,258.14 L514.34,256.81 L516.35,255.46 L518.36,254.11 L520.37,252.75 L522.38,251.37 L524.39,249.99 L526.40,248.60 L528.41,247.19 L530.42,245.78 L532.43,244.35 L534.45,242.91 L536.46,241.46 L538.47,240.00 L540.48,238.52 L542.49,237.03 L544.50,235.53 L546.51,234.02 L548.52,232.49 L550.53,230.96 L552.54,229.42 L554.55,227.86 L556.57,226.31 L558.58,224.74 L560.59,223.17 L562.60,221.59 L564.61,220.01 L566.62,218.42 L568.63,216.83 L570.64,215.24 L572.65,213.64 L574.66,212.05 L576.67,210.45 L578.69,208.85 L580.70,207.26 L582.71,205.66 L584.72,204.07 L586.73,202.48 L588.74,200.89 L590.75,199.31 L592.76,197.73 L594.77,196.16 L596.78,194.60 L598.79,193.04 L600.81,191.49 L602.82,189.95 L604.83,188.42 L606.84,186.89 L608.85,185.38 L610.86,183.87 L612.87,182.36 L614.88,180.86 L616.89,179.37 L618.90,177.88 L620.91,176.39 L622.93,174.90 L624.94,173.41 L626.95,171.92 L628.96,170.43 L630.97,168.94 L632.98,167.44 L634.99,165.94 L637.00,164.44 L639.01,162.92 L641.02,161.41 L643.03,159.88 L645.05,158.34 L647.06,156.80 L649.07,155.24 L651.08,153.68 L653.09,152.10 L655.10,150.50 L655.10,150.50 L666.00,133.80 L666.00,133.80 L684.20,116.60 L684.20,116.60 L695.70,111.80 L695.70,111.80 L697.75,111.41 L699.80,111.02 L701.85,110.64 L703.90,110.26 L705.94,109.89 L707.99,109.52 L710.04,109.15 L712.09,108.78 L714.14,108.42 L716.19,108.06 L718.24,107.70 L720.29,107.34 L722.33,106.98 L724.38,106.62 L726.43,106.26 L728.48,105.90 L730.53,105.54 L732.58,105.18 L734.63,104.82 L736.68,104.45 L738.72,104.09 L740.77,103.72 L742.82,103.35 L744.87,102.98 L746.92,102.62 L748.97,102.27 L751.02,101.93 L753.07,101.61 L755.11,101.30 L757.16,101.01 L759.21,100.74 L761.26,100.49 L763.31,100.27 L765.36,100.08 L767.41,99.91 L769.46,99.77 L771.50,99.64 L773.55,99.54 L775.60,99.45 L777.65,99.37 L779.70,99.30 L781.75,99.24 L783.80,99.18 L785.85,99.12 L787.89,99.07 L789.94,99.01 L791.99,98.95 L794.04,98.87 L796.09,98.79 L798.14,98.70 L800.19,98.60 L802.24,98.48 L804.28,98.35 L806.33,98.21 L808.38,98.05 L810.43,97.87 L812.48,97.67 L814.53,97.46 L816.58,97.23 L818.62,96.97 L820.67,96.69 L822.72,96.39 L824.77,96.08 L826.82,95.75 L828.87,95.43 L830.92,95.11 L832.97,94.80 L835.01,94.51 L837.06,94.25 L839.11,94.02 L841.16,93.83 L843.21,93.69 L845.26,93.60 L847.31,93.58 L849.36,93.62 L851.40,93.74 L853.45,93.94 L855.50,94.22 L857.55,94.61 L859.60,95.10" fill="none" stroke="#d8121e" stroke-width="2.0" stroke-linejoin="round"/>
<text x="303.13" y="12.00" font-size="11.4" font-weight="bold" font-style="normal" fill="#111" textLength="432.95" lengthAdjust="spacingAndGlyphs">DYNOmite test &quot;Sean Daley #7 on 2018-08-08 @ 14-05-35&quot; by EFI Express</text>
<text x="431.90" y="50.00" font-size="12" font-weight="bold" font-style="italic" fill="#8e8e8e" textLength="176.93" lengthAdjust="spacingAndGlyphs">Peak Torque* and Hp* vs. RPM</text>
<text x="464.55" y="452.00" font-size="11.7" font-weight="bold" font-style="normal" fill="#111" textLength="111.78" lengthAdjust="spacingAndGlyphs">Engine RPM (RPM)</text>
<text transform="translate(48.20,268.80) rotate(-90)" x="0" y="0" font-size="12" font-weight="bold" font-style="normal" fill="#111" textLength="84.45" lengthAdjust="spacingAndGlyphs">Torque and HP</text>
<text transform="translate(992.50,207.49) rotate(90)" x="0" y="0" font-size="12" font-weight="bold" font-style="normal" fill="#111" textLength="87.16" lengthAdjust="spacingAndGlyphs">All Other Lines</text>
<text x="52.93" y="453.60" font-size="9.5" font-weight="bold" font-style="italic" fill="#8a8a8a" textLength="128.34" lengthAdjust="spacingAndGlyphs">* Correction Method: Standard</text>
<text x="842.12" y="465.60" font-size="9.5" font-weight="bold" font-style="italic" fill="#8a8a8a" textLength="145.04" lengthAdjust="spacingAndGlyphs">Peak Power: 319.1 Hp @ 5950 RPM</text>
<text x="125.51" y="110.20" font-size="11.5" font-weight="bold" font-style="normal" fill="#111" textLength="64.64" lengthAdjust="spacingAndGlyphs">#7 User AFR</text>
<text x="632.41" y="101.20" font-size="11.5" font-weight="bold" font-style="normal" fill="#1a148c" textLength="52.28" lengthAdjust="spacingAndGlyphs">#7 Torque</text>
<text x="819.50" y="91.30" font-size="11.5" font-weight="bold" font-style="normal" fill="#d8121e" textLength="30.60" lengthAdjust="spacingAndGlyphs">#7 Hp</text>
<text x="799.61" y="168.40" font-size="11.5" font-weight="bold" font-style="normal" fill="#80801f" textLength="58.71" lengthAdjust="spacingAndGlyphs">#7 PSI-4 B1</text>
<text x="102.81" y="383.20" font-size="11.5" font-weight="bold" font-style="normal" fill="#80801f" textLength="58.41" lengthAdjust="spacingAndGlyphs">#7 PSI-6 B1</text>
<g id="logo">
<rect x="539.9" y="267.7" width="173.5" height="85.9" fill="#fff" stroke="#808080" stroke-width="1.4"/>
<polygon points="550.35,270.30 580.75,270.30 578.57,286.40 561.27,286.40 559.67,298.30 576.67,298.30 574.60,313.60 557.60,313.60 555.77,327.20 572.27,327.20 570.20,342.50 540.60,342.50" fill="#1c1a1a"/>
<polygon points="584.95,270.30 614.75,270.30 612.68,285.60 595.88,285.60 594.15,298.40 609.85,298.40 607.91,312.80 592.21,312.80 588.20,342.50 575.20,342.50" fill="#1c1a1a"/>
<polygon points="618.05,270.30 631.35,270.30 621.60,342.50 608.30,342.50" fill="#1c1a1a"/>
<polygon points="631.35,270.30 635.35,270.30 625.60,342.50 621.60,342.50" fill="#e0141e"/>
<polyline points="642.6,270.9 639.8,278.9 640.6,282.9 640.1,287.0 640.9,291.0 641.5,292.7 639.8,291.6 638.3,292.7 636.9,291.6 635.2,292.1 634.6,293.9 634.6,307.7 635.2,307.7 636.3,309.4 638.0,308.2 639.8,309.4 641.5,308.2 644.9,308.2 644.9,318.0 657.0,318.0 657.6,312.8 660.5,311.7 662.8,310.0 664.5,307.7 665.4,305.9 664.5,304.6 665.2,302.5 665.2,297.9 664.5,295.8 665.4,294.2 664.5,292.7 662.8,291.0 660.5,288.1 657.6,285.2 657.0,282.4 647.2,282.4 644.9,278.3 642.6,270.9" fill="none" stroke="#111" stroke-width="0.9" stroke-linejoin="miter"/>
<g stroke="#111" stroke-width="0.8" stroke-dasharray="7 1.2 4 1.2 9 1"><line x1="667" y1="297.5" x2="705.4" y2="283.6"/><line x1="667" y1="299" x2="703.8" y2="292.6"/><line x1="667" y1="300.5" x2="701.3" y2="299.1"/><line x1="667" y1="302" x2="702.1" y2="306.5"/><line x1="667" y1="303.5" x2="701.3" y2="312.3"/><line x1="667" y1="305" x2="705.4" y2="318.8"/><line x1="667" y1="306" x2="704.5" y2="326.2"/></g>
<g fill="#111"><circle cx="705.4" cy="283.6" r="0.9"/><circle cx="703.8" cy="292.6" r="0.9"/><circle cx="701.3" cy="299.1" r="0.9"/><circle cx="702.1" cy="306.5" r="0.9"/><circle cx="701.3" cy="312.3" r="0.9"/><circle cx="705.4" cy="318.8" r="0.9"/><circle cx="704.5" cy="326.2" r="0.9"/></g>
<polygon points="665.8,296.8 668,296.3 671.3,301 668,307.2 665.8,306.6" fill="#111"/>
<line x1="667" y1="296.6" x2="713.2" y2="271.2" stroke="#111" stroke-width="1.5"/>
<line x1="667.5" y1="307.2" x2="713.2" y2="340.3" stroke="#111" stroke-width="1.5"/>
<text transform="translate(628.3,344.2) scale(0.5,1)" font-style="italic" font-size="31" fill="#dc1c34" stroke="#dc1c34" stroke-width="1.0">express</text>
</g>
</svg></body></html>
